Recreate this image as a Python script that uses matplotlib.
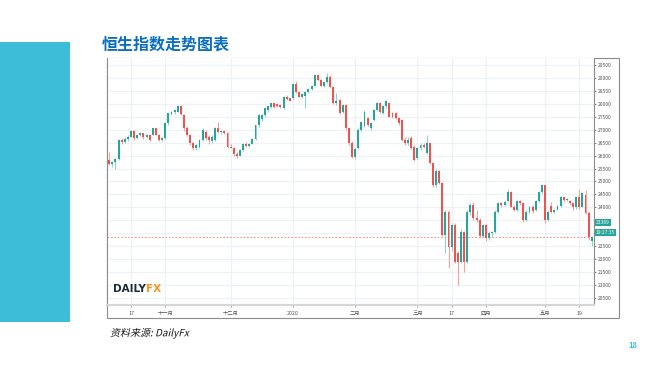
import matplotlib
matplotlib.use("Agg")
import matplotlib.pyplot as plt
import matplotlib.transforms as mtransforms
import matplotlib.patheffects as pe
from matplotlib.patches import Rectangle
import numpy as np

plt.rcParams['font.family'] = ['Noto Sans CJK SC', 'DejaVu Sans']

# ---------------- data (daily candles, HK50) ----------------
opens = [25830, 25660, 25760, 25860, 26600, 26520, 26650, 26730, 26950, 26670,
         26800, 26860, 26700, 26800, 26800, 27050, 26800, 26600, 26680, 27250,
         27600, 27700, 27700, 27930, 27560, 27050, 26800, 26470, 26280, 26330,
         26600, 26930, 26730, 26560, 26600, 27050, 26900, 26960, 26880, 26350,
         26300, 26050, 26000, 26200, 26450, 26380, 26460, 26650, 27170, 27400,
         27550, 27750, 27870, 28030, 28000, 27950, 27830, 28270, 28230, 28230,
         28760, 28440, 28280, 28300, 28450, 28560, 28700, 29110, 28920, 28700,
         28850, 29050, 28660, 28020, 28150, 27700, 27950, 27060, 26480, 25960,
         26300, 26990, 27150, 27450, 27050, 27380, 27760, 28030, 27640, 27900,
         28030, 27650, 27640, 27450, 27370, 26600, 26470, 26680, 26340, 25890,
         26280, 26420, 26100, 26490, 25710, 24860, 25400, 24930, 22930, 23830,
         22480, 23320, 22220, 21900, 23060, 21900, 23830, 24090, 23600, 23520,
         22900, 23300, 22800, 23000, 23060, 23830, 24150, 24100, 24250, 24600,
         24030, 23900, 24250, 24150, 23510, 23830, 24030, 23900, 24250, 24600,
         24860, 23510, 24050, 23830, 23900, 24050, 24410, 24280, 24250, 24150,
         24000, 24410, 24020, 24480, 23800, 22700]
highs = [26150, 25800, 25900, 26650, 26680, 26700, 26780, 26980, 27000, 26850,
         26900, 26880, 26850, 26830, 27080, 27080, 26820, 26700, 27280, 27650,
         27720, 27780, 27950, 27950, 27600, 27150, 26850, 26520, 26450, 26650,
         27050, 27000, 26780, 26780, 27100, 27280, 27000, 27000, 26920, 26450,
         26350, 26150, 26250, 26500, 26520, 26500, 26680, 27200, 27600, 27600,
         27850, 27920, 28050, 28060, 28050, 27980, 28300, 28330, 28260, 28800,
         28900, 28480, 28400, 28480, 28600, 28720, 29120, 29150, 28960, 28880,
         29180, 29100, 28700, 28400, 28200, 28000, 27980, 27100, 26550, 26350,
         27050, 27350, 27750, 27500, 27300, 27800, 28060, 28080, 27950, 28150,
         28060, 27700, 27700, 27500, 27400, 26700, 26700, 26750, 26400, 26320,
         26500, 26480, 26800, 26520, 25750, 25480, 25460, 24980, 23900, 23900,
         23400, 23400, 22300, 23150, 23100, 23900, 24150, 24200, 23900, 23600,
         23350, 23350, 23100, 23100, 23900, 24200, 24200, 24300, 24700, 24650,
         24100, 24300, 24300, 24200, 23900, 24050, 24100, 24300, 24620, 24900,
         24880, 23900, 24200, 23950, 24100, 24450, 24430, 24350, 24300, 24180,
         24450, 24700, 24560, 24670, 23850, 22900]
lows = [25620, 25560, 25470, 25820, 26450, 26480, 26560, 26700, 26620, 26640,
        26740, 26650, 26680, 26580, 26780, 26780, 26580, 26560, 26650, 27200,
        27550, 27620, 27680, 27560, 26950, 26750, 26420, 26230, 26220, 26300,
        26580, 26620, 26450, 26500, 26550, 26880, 26850, 26820, 26300, 26280,
        26000, 25920, 25970, 26180, 26350, 26330, 26430, 26620, 27100, 27350,
        27500, 27700, 27850, 27850, 27860, 27850, 27800, 28150, 28100, 28200,
        28400, 28250, 28230, 27830, 28420, 28530, 28680, 28900, 28680, 28650,
        28820, 28620, 27980, 27950, 27620, 27650, 27000, 26400, 25900, 25850,
        26250, 26950, 27100, 27150, 27000, 27350, 27720, 27650, 27600, 27850,
        27480, 27450, 27400, 27200, 26550, 26400, 26420, 26250, 25780, 25850,
        26200, 26300, 26050, 25680, 24800, 24800, 24900, 22900, 22220, 21640,
        22300, 21850, 21000, 21850, 21520, 21850, 23700, 23500, 23450, 22800,
        22850, 22700, 22750, 22900, 23000, 23800, 24000, 24050, 24200, 24000,
        23850, 23850, 24100, 23450, 23480, 23800, 23800, 23850, 24200, 24550,
        23400, 23480, 23800, 23800, 23880, 24000, 24220, 24250, 24100, 23900,
        23950, 23950, 24000, 23750, 22750, 22500]
closes = [25660, 25760, 25860, 26600, 26520, 26650, 26730, 26950, 26670, 26800,
          26860, 26700, 26800, 26620, 27050, 26800, 26600, 26680, 27250, 27630,
          27700, 27760, 27930, 27600, 27050, 26800, 26470, 26280, 26400, 26600,
          26990, 26670, 26600, 26730, 27050, 26930, 26960, 26880, 26350, 26300,
          26050, 25980, 26200, 26450, 26380, 26460, 26650, 27170, 27550, 27550,
          27830, 27900, 28030, 27880, 27900, 27880, 28270, 28170, 28120, 28760,
          28440, 28280, 28370, 28450, 28560, 28700, 29100, 28920, 28700, 28850,
          29050, 28660, 28020, 28120, 27650, 27950, 27060, 26480, 25960, 26250,
          26990, 27310, 27700, 27180, 27250, 27760, 28030, 27700, 27900, 28090,
          27500, 27500, 27450, 27250, 26600, 26470, 26600, 26290, 25830, 26280,
          26420, 26340, 26490, 25710, 24860, 25400, 24930, 22930, 23830, 22480,
          23320, 21900, 21900, 23060, 21900, 23830, 24090, 23600, 23520, 22900,
          23300, 22800, 23000, 23060, 23830, 24150, 24100, 24200, 24600, 24030,
          23900, 24250, 24150, 23510, 23830, 24000, 23850, 24250, 24600, 24860,
          23510, 23830, 23830, 23900, 24050, 24410, 24280, 24300, 24150, 24000,
          24410, 24020, 24550, 23780, 22840, 22850]

tick_pos = [7, 18, 39, 59, 79, 99, 110, 121, 140, 151]
tick_labels = ["17", "十一月", "十二月", "2020", "二月", "三月", "17", "四月", "五月", "19"]
price_ticks = list(range(20500, 30000, 500))
last_price_label = 23389
countdown_label = "19:27:35"

title = "恒生指数走势图表"
source = "资料来源: DailyFx"
page_no = "18"

UP = "#26a69a"
DOWN = "#ef5350"


class Slant(pe.AbstractPathEffect):
    """Draw text glyphs with a synthetic italic slant."""
    def __init__(self, deg=12):
        super().__init__()
        self.deg = deg

    def draw_path(self, renderer, gc, tpath, affine, rgbFace=None):
        renderer.draw_path(gc, tpath, mtransforms.Affine2D().skew_deg(self.deg, 0) + affine, rgbFace)


# ---------------- figure ----------------
fig = plt.figure(figsize=(6.47, 3.65), dpi=100)
W, H = 647, 365

def fx(px):
    return px / W

def fy(py):
    return 1 - py / H

# left decorative panel
fig.patches.append(Rectangle((0, fy(322)), fx(70), fy(42) - fy(322),
                             transform=fig.transFigure, fc="#3dbdd7", ec="none", zorder=0))

fig.text(fx(102), fy(45), title, fontsize=11.5, fontweight="bold", color="#0b6fc0",
         va="center", ha="left")
fig.text(fx(110), fy(333), source, fontsize=7.2, color="#1a1a1a",
         family=["Noto Sans CJK SC", "DejaVu Sans"], va="center", ha="left",
         path_effects=[Slant(13)])
fig.text(fx(628), fy(346), page_no, fontsize=5.5, fontweight="bold", color="#3dbdd7",
         va="center", ha="left")

# outer frame of chart
fig.patches.append(Rectangle((fx(107), fy(318)), fx(619) - fx(107), fy(58) - fy(318),
                             transform=fig.transFigure, fc="white", ec="#8c8c8c", lw=0.8, zorder=0.5))

ax = fig.add_axes([fx(107), fy(305), fx(594) - fx(107), fy(58) - fy(305)])
ax.set_zorder(2)
ax.set_facecolor("white")

n = len(closes)
x = np.arange(n)
o = np.array(opens, float)
c = np.array(closes, float)
h = np.array(highs, float)
l = np.array(lows, float)
up = c >= o
col = np.where(up, UP, DOWN)
wick_col = np.where(up, "#8fd3cb", "#f5a3a1")

ax.vlines(x, l, h, colors=wick_col, lw=0.8, zorder=3)
bottoms = np.minimum(o, c)
heights = np.maximum(np.abs(c - o), 30)
ax.bar(x, heights, bottom=bottoms, width=0.62, color=col, edgecolor="none", zorder=4)

ax.set_xlim(-0.71, 155.73)
ax.set_ylim(20229, 29770)

# grids
ax.set_yticks(price_ticks)
ax.set_xticks(tick_pos)
ax.grid(True, color="#eef2f6", lw=0.9, zorder=0)
ax.set_axisbelow(True)

ax.yaxis.tick_right()
ax.set_yticklabels([str(v) for v in price_ticks])
ax.tick_params(axis="y", labelsize=3.6, colors="#555555", length=1.5, width=0.5, pad=1.5,
               labelcolor="#555555")
ax.set_xticklabels(tick_labels)
ax.tick_params(axis="x", labelsize=3.8, colors="#777777", length=1.5, width=0.5, pad=2.5,
               labelcolor="#555555")

ax.spines["top"].set_visible(False)
ax.spines["left"].set_color("#8c8c8c")
ax.spines["left"].set_linewidth(0.8)
ax.spines["right"].set_color("#8c8c8c")
ax.spines["right"].set_linewidth(0.8)
ax.spines["bottom"].set_color("#d6d6d6")
ax.spines["bottom"].set_linewidth(1.5)

# tick labels hidden behind the price boxes (as on the reference)
for lbl, v in zip(ax.get_yticklabels(), price_ticks):
    if v in (23000, 23500):
        lbl.set_visible(False)

# last price line
ax.axhline(closes[-1], color="#f19c9a", lw=0.7, ls=(0, (2, 1.5)), zorder=2)

# price label boxes
tr = mtransforms.blended_transform_factory(ax.transAxes, ax.transData)
ax.text(1.004, last_price_label + 20, str(last_price_label), transform=tr, fontsize=3.5,
        color="white", va="center", ha="left", zorder=6, clip_on=False,
        bbox=dict(boxstyle="square,pad=0.25", fc=UP, ec="none"))
ax.text(1.004, last_price_label - 360, countdown_label, transform=tr, fontsize=3.5,
        color="white", va="center", ha="left", zorder=6, clip_on=False,
        bbox=dict(boxstyle="square,pad=0.25", fc=UP, ec="none"))

# DailyFX logo
ax.text(0.012, 0.045, "DAILY", transform=ax.transAxes, fontsize=7.5, fontweight="bold",
        color="#1c2b3a", family=["DejaVu Sans"], va="bottom", ha="left", zorder=7)
ax.text(0.080, 0.045, "FX", transform=ax.transAxes, fontsize=7.5, fontweight="bold",
        color="#f7931e", family=["DejaVu Sans"], va="bottom", ha="left", zorder=7)

fig.savefig("out.png", dpi=100)
